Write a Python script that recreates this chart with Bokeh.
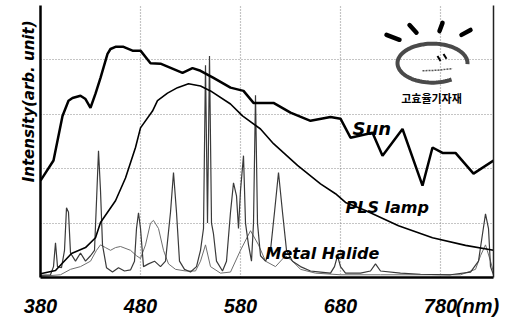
import numpy as np
from bokeh.plotting import figure
from bokeh.models import (Range1d, FixedTicker, LinearAxis, Label, Title)
from bokeh.embed import file_html
from bokeh.resources import INLINE

# ---------------- data ----------------
x_ticks = [380, 480, 580, 680, 780]
x_tick_labels = ["380", "480", "580", "680", "780"]
unit_label = "(nm)"

sun_nm = [380, 393, 402, 408, 412, 420, 425, 430, 435, 440, 447, 450, 455, 463, 472,
          480, 490, 500, 522, 532, 540, 553, 570, 583, 593, 613, 630, 650, 670, 680,
          690, 712, 722, 742, 762, 772, 782, 795, 813, 833]
sun_val = [1.78, 2.15, 2.97, 3.25, 3.30, 3.34, 3.28, 3.12, 3.38, 3.67, 4.11, 4.20, 4.24,
           4.24, 4.17, 4.17, 3.94, 3.93, 3.76, 3.85, 3.80, 3.67, 3.49, 3.43, 3.21, 3.21,
           3.03, 2.88, 2.95, 2.92, 2.57, 2.66, 2.24, 2.73, 1.69, 2.39, 2.29, 2.29, 1.91,
           2.15]

pls_nm = [380, 395, 411, 425, 435, 440, 455, 465, 475, 480, 492, 497, 507, 517, 528,
          540, 550, 570, 582, 600, 613, 637, 660, 675, 685, 705, 738, 772, 805, 833]
pls_val = [0.07, 0.13, 0.44, 0.55, 0.73, 1.01, 1.41, 1.83, 2.39, 2.75, 3.06, 3.25, 3.39,
           3.49, 3.56, 3.52, 3.43, 3.19, 2.97, 2.73, 2.46, 2.06, 1.72, 1.54, 1.38, 1.23,
           0.95, 0.73, 0.59, 0.50]

mh_nm = [380, 390, 393, 395, 397, 401, 404, 406, 408, 410, 415, 420, 425, 430, 434, 436,
         438, 440, 442, 446, 452, 458, 464, 470, 474, 476, 478, 480, 483, 488, 494, 500,
         505, 510, 513, 516, 519, 524, 530, 536, 540, 543, 545, 547, 549, 551, 553, 556,
         562, 566, 570, 573, 576, 578, 580, 583, 585, 588, 591, 593, 595, 597, 600, 605,
         610, 614, 618, 622, 626, 632, 640, 650, 660, 670, 674, 677, 680, 685, 700, 710,
         715, 720, 740, 760, 790, 810, 818, 822, 825, 828, 830, 833]
mh_val = [0.04, 0.05, 0.20, 0.64, 0.20, 0.18, 0.50, 1.28, 1.20, 0.45, 0.30, 0.45, 0.30,
          0.40, 0.50, 1.40, 2.33, 1.60, 0.60, 0.18, 0.10, 0.18, 0.12, 0.14, 0.30, 0.90,
          1.19, 0.90, 0.20, 0.25, 0.30, 0.20, 0.30, 1.20, 1.93, 1.20, 0.30, 0.15, 0.10,
          0.20, 0.50, 0.90, 3.90, 1.00, 4.07, 1.00, 0.80, 0.30, 0.12, 0.30, 1.20, 1.74,
          1.50, 0.90, 1.60, 2.24, 1.00, 0.60, 0.30, 1.00, 3.35, 1.00, 0.40, 0.30, 0.50,
          1.20, 1.93, 1.20, 0.50, 0.30, 0.20, 0.12, 0.10, 0.08, 0.20, 0.40, 0.20, 0.08,
          0.08, 0.12, 0.25, 0.12, 0.08, 0.06, 0.05, 0.10, 0.30, 0.80, 1.17, 0.90, 0.20,
          0.05]

mh2_nm = [380, 400, 410, 420, 430, 436, 440, 445, 450, 455, 460, 470, 476, 480, 485, 490,
          493, 498, 503, 508, 515, 525, 535, 540, 545, 550, 560, 570, 580, 590, 598, 605,
          615, 625, 632, 640, 655, 680, 720, 800, 815, 820, 825, 830, 833]
mh2_val = [0.02, 0.05, 0.15, 0.20, 0.30, 0.50, 0.60, 0.55, 0.50, 0.55, 0.57, 0.50, 0.40,
           0.35, 0.60, 1.00, 1.05, 0.90, 0.50, 0.25, 0.15, 0.12, 0.12, 0.30, 0.60, 0.20,
           0.08, 0.10, 0.50, 0.86, 0.60, 0.30, 0.20, 0.40, 0.30, 0.15, 0.08, 0.05, 0.05,
           0.05, 0.15, 0.40, 0.60, 0.30, 0.10]

series_labels = ["Sun", "PLS lamp", "Metal Halide"]
y_title = "Intensity(arb. unit)"
logo_text = "고효율기자재"

# ---------------- figure ----------------
p = figure(width=530, height=320, output_backend="svg", toolbar_location=None,
           x_range=Range1d(380, 833), y_range=Range1d(0, 5.0),
           min_border_left=40, min_border_right=37, min_border_top=5,
           min_border_bottom=43, background_fill_color="white",
           border_fill_color="white", x_axis_location=None, y_axis_location=None)
p.outline_line_color = None

# x axis with labels
overrides = {t: l for t, l in zip(x_ticks, x_tick_labels)}
overrides[817] = unit_label
xax = LinearAxis(ticker=FixedTicker(ticks=x_ticks + [817]))
xax.major_label_overrides = overrides
xax.axis_line_color = "black"
xax.axis_line_width = 2.5
xax.major_tick_line_color = None
xax.minor_tick_line_color = None
xax.major_label_standoff = 11
xax.major_label_text_font = "Liberation Sans"
xax.major_label_text_font_style = "bold italic"
xax.major_label_text_font_size = "20px"
xax.major_label_text_color = "black"
p.add_layout(xax, "below")

# left axis (line only)
yax = LinearAxis(ticker=FixedTicker(ticks=[]))
yax.axis_line_width = 2.5
yax.major_tick_line_color = None
yax.minor_tick_line_color = None
yax.major_label_standoff = 0
p.add_layout(yax, "left")

# right border
rax = LinearAxis(ticker=FixedTicker(ticks=[]))
rax.axis_line_width = 1.5
rax.axis_line_color = "#222222"
rax.major_tick_line_color = None
rax.minor_tick_line_color = None
rax.major_label_standoff = 0
p.add_layout(rax, "right")

p.add_layout(Title(text=y_title, align="right", offset=15, text_font="DejaVu Sans",
                   text_font_style="bold italic", text_font_size="15px",
                   text_color="black", standoff=5), "left")

# grid
p.xgrid.ticker = FixedTicker(ticks=x_ticks[1:])
p.ygrid.ticker = FixedTicker(ticks=[1, 2, 3, 4])
for g in (p.xgrid, p.ygrid):
    g.grid_line_color = "#8a8a8a"
    g.grid_line_dash = "1 2"
    g.grid_line_width = 1.2

# series
p.line(mh2_nm, mh2_val, line_color="#6e6e6e", line_width=1)
p.line(mh_nm, mh_val, line_color="#3a3a3a", line_width=1.2)
p.line(pls_nm, pls_val, line_color="black", line_width=1.6)
p.line(sun_nm, sun_val, line_color="black", line_width=2.5)

# series labels
lab_x = [692, 685, 605]
lab_y = [2.73, 1.28, 0.44]
lab_size = ["18px", "16px", "16px"]
for t, x, y, s in zip(series_labels, lab_x, lab_y, lab_size):
    p.add_layout(Label(x=x, y=y, text=t, text_font="DejaVu Sans",
                       text_font_style="bold italic", text_font_size=s,
                       text_color="black", text_baseline="alphabetic"))

# ---------------- logo (decoration) ----------------
cx, cy, a, b = 772, 3.94, 35, 0.358
th = np.radians(np.linspace(-3, 303, 80))
p.line(cx + a * np.cos(th), cy + b * np.sin(th), line_color="#4a4a4a", line_width=4)
rays_x0 = [726, 749, 782, 810]
rays_y0 = [4.46, 4.64, 4.68, 4.55]
rays_x1 = [739, 756, 779, 801]
rays_y1 = [4.37, 4.50, 4.53, 4.46]
p.segment(rays_x0, rays_y0, rays_x1, rays_y1, line_color="black", line_width=4.5,
          line_cap="round")
p.segment([777, 783], [4.07, 4.11], [780, 786], [3.98, 4.02], line_color="black",
          line_width=2)
p.line([762, 777, 792], [3.80, 3.81, 3.84], line_color="#555555", line_width=1.5,
       line_dash="2 1")
p.add_layout(Label(x=771, y=3.30, text=logo_text, text_font="Noto Sans CJK KR",
                   text_font_style="bold", text_font_size="11px", text_color="black",
                   text_align="center", text_baseline="middle"))

open("out.html", "w").write(file_html(p, INLINE))
